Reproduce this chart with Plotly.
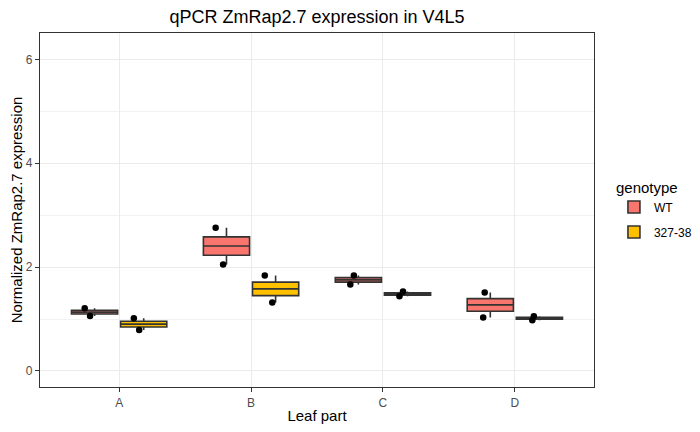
import numpy as np
import plotly.graph_objects as go

# two replicates per leaf part
leaf_parts = ['A', 'B', 'C', 'D']
wt_values = [[1.06, 1.205], [2.05, 2.76], [1.84, 1.667], [1.513, 1.03]]
mut_values = [[1.013, 0.79], [1.84, 1.32], [1.436, 1.53], [0.975, 1.052]]

genotypes = ['WT', '327-38']
colors = ['#F8766D', '#FFC000']

font = 'Liberation Sans, Arial, sans-serif'

# the page body has an 8px margin, so the figure is made 16px smaller
W, H = 684, 416
L, R, T, B = 31.5, 97.5, 24.5, 36.5

fig = go.Figure()
for name, vals, col in zip(genotypes, [wt_values, mut_values], colors):
    # ggplot style quartiles (R type 7 == numpy default)
    q1 = [np.percentile(v, 25) for v in vals]
    med = [np.percentile(v, 50) for v in vals]
    q3 = [np.percentile(v, 75) for v in vals]
    lo = [min(v) for v in vals]
    hi = [max(v) for v in vals]
    fig.add_trace(go.Box(
        x=leaf_parts,
        q1=q1, median=med, q3=q3, lowerfence=lo, upperfence=hi,
        name=name,
        legendgroup=name,
        offsetgroup=name,
        fillcolor=col,
        line=dict(color='#333333', width=1.6),
        whiskerwidth=0,
        boxpoints=False,
    ))
    # raw points on top
    xs = [p for p, v in zip(leaf_parts, vals) for _ in v]
    ys = [y for v in vals for y in v]
    fig.add_trace(go.Box(
        x=xs, y=ys,
        name=name,
        legendgroup=name,
        offsetgroup=name,
        showlegend=False,
        fillcolor='rgba(0,0,0,0)',
        line=dict(color='rgba(0,0,0,0)', width=0),
        whiskerwidth=0,
        boxpoints='all',
        jitter=0.2,
        pointpos=-0.3,
        marker=dict(color='black', size=6.5),
    ))

fig.update_layout(
    boxmode='group',
    boxgap=0.255,
    boxgroupgap=0.06,
    width=W,
    height=H,
    margin=dict(l=L, r=R, t=T, b=B, autoexpand=False),
    plot_bgcolor='white',
    paper_bgcolor='white',
    font=dict(family=font, color='black'),
    title=dict(text='qPCR ZmRap2.7 expression in V4L5', x=(L + W - R) / 2 / W,
               xanchor='center', y=1 - 8.5 / H, yanchor='middle',
               font=dict(size=18, color='black')),
    legend=dict(
        title=dict(text='genotype', font=dict(size=15)),
        font=dict(size=12),
        x=1.036, xanchor='left', y=0.5, yanchor='middle',
        traceorder='grouped',
        tracegroupgap=6,
    ),
    xaxis=dict(
        title=dict(text='Leaf part', font=dict(size=15), standoff=4),
        automargin=False,
        range=[-0.6, 3.6],
        showgrid=True, gridcolor='#EBEBEB', gridwidth=1,
        ticks='outside', ticklen=4, tickcolor='#333333',
        tickfont=dict(size=12, color='#4D4D4D'),
        showline=True, linecolor='#333333', linewidth=1.3, mirror=True,
        zeroline=False,
    ),
    yaxis=dict(
        title=dict(text='Normalized ZmRap2.7 expression', font=dict(size=15), standoff=3),
        automargin=False,
        range=[-0.31, 6.51],
        tickvals=[0, 2, 4, 6],
        showgrid=True, gridcolor='#EBEBEB', gridwidth=1,
        minor=dict(tickvals=[1, 3, 5], showgrid=True, gridcolor='#F2F2F2', gridwidth=0.6),
        ticks='outside', ticklen=4, tickcolor='#333333',
        tickfont=dict(size=12, color='#4D4D4D'),
        showline=True, linecolor='#333333', linewidth=1.3, mirror=True,
        zeroline=False,
    ),
)

fig.write_html('out.html')
